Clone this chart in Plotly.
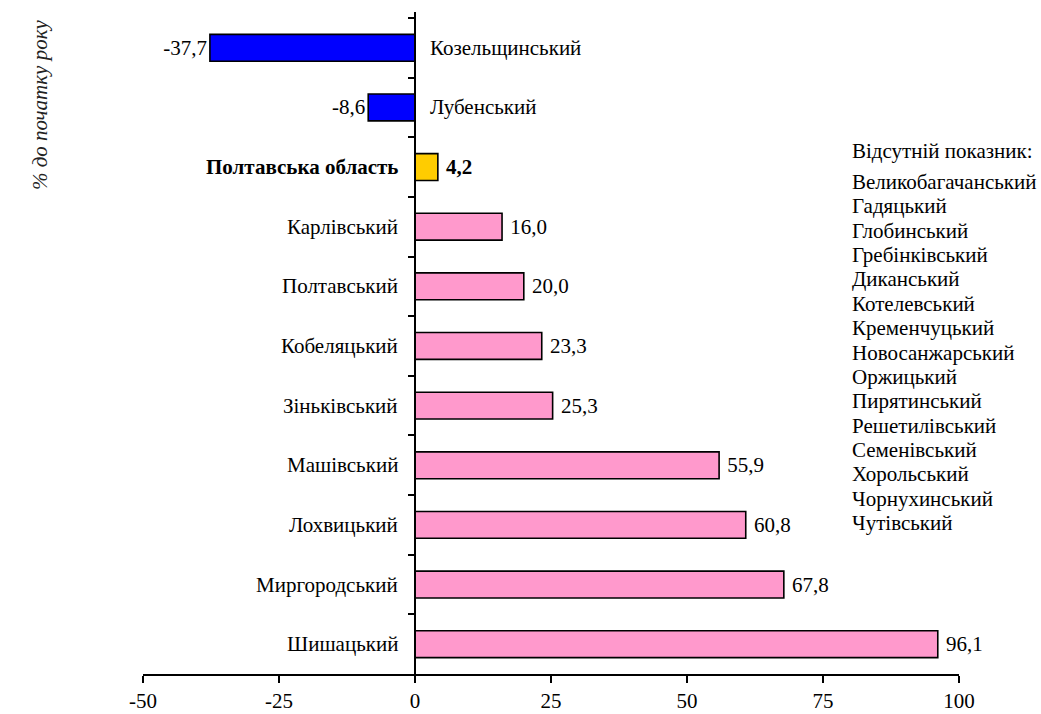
import plotly.graph_objects as go

categories = ["Козельщинський", "Лубенський", "Полтавська область", "Карлівський",
              "Полтавський", "Кобеляцький", "Зіньківський", "Машівський",
              "Лохвицький", "Миргородський", "Шишацький"]
values = [-37.7, -8.6, 4.2, 16.0, 20.0, 23.3, 25.3, 55.9, 60.8, 67.8, 96.1]
highlight = "Полтавська область"
missing_title = "Відсутній показник:"
missing = ["Великобагачанський", "Гадяцький", "Глобинський", "Гребінківський",
           "Диканський", "Котелевський", "Кременчуцький", "Новосанжарський",
           "Оржицький", "Пирятинський", "Решетилівський", "Семенівський",
           "Хорольський", "Чорнухинський", "Чутівський"]
x_ticks = [-50, -25, 0, 25, 50, 75, 100]
y_title = "% до початку року"

FONT = "Liberation Serif"
FS = 21

W, H = 1041, 714
L, R, T, B = 143, 82, 12, 40

def px_x(px):
    return (px - L) / (W - L - R)

def px_y(py):
    return 1 - (py - T) / (H - T - B)

colors = []
texts = []
for c, v in zip(categories, values):
    s = f"{v:.1f}".replace(".", ",")
    if c == highlight:
        colors.append("#FFCC00")
        texts.append(f" <b>{s}</b>")
    elif v < 0:
        colors.append("#0000FF")
        texts.append(s)
    else:
        colors.append("#FF99CC")
        texts.append(" " + s)

fig = go.Figure(go.Bar(
    y=categories, x=values, orientation="h",
    marker=dict(color=colors, line=dict(color="black", width=1.6)),
    width=0.45,
    text=texts, textposition="outside", cliponaxis=False,
    textfont=dict(family=FONT, size=FS, color="black"),
))

for c, v in zip(categories, values):
    lab = f"<b>{c}</b>" if c == highlight else c
    fig.add_annotation(x=0, y=c, xref="x", yref="y", text=lab, showarrow=False,
                       xanchor="left" if v < 0 else "right",
                       xshift=13 if v < 0 else -15,
                       font=dict(family=FONT, size=FS, color="black"))

fig.add_annotation(x=px_x(850), y=px_y(151), xref="paper", yref="paper", text=missing_title,
                   showarrow=False, xanchor="left", yanchor="middle",
                   font=dict(family=FONT, size=FS, color="black"))
for i, name in enumerate(missing):
    fig.add_annotation(x=px_x(850), y=px_y(182 + i * 24.36), xref="paper", yref="paper",
                       text=name, showarrow=False, xanchor="left", yanchor="middle",
                       font=dict(family=FONT, size=FS, color="black"))

fig.add_annotation(x=px_x(40), y=px_y(105), xref="paper", yref="paper",
                   text=f"<i>{y_title}</i>", showarrow=False, textangle=-90,
                   xanchor="center", yanchor="middle",
                   font=dict(family=FONT, size=FS, color="#222222"))

fig.update_layout(
    width=W, height=H,
    margin=dict(l=L, r=R, t=T, b=B, autoexpand=False),
    plot_bgcolor="white", paper_bgcolor="white",
    showlegend=False,
    xaxis=dict(range=[-50, 100], tickvals=x_ticks, ticktext=[str(t) for t in x_ticks],
               automargin=False,
               showline=True, linecolor="black", linewidth=1.5, ticks="outside",
               ticklen=7, tickwidth=1.5, tickcolor="black", showgrid=False, zeroline=False,
               tickfont=dict(family=FONT, size=FS, color="black")),
    yaxis=dict(type="category", range=[len(categories) - 0.5, -0.6], showticklabels=False,
               automargin=False,
               anchor="free", position=1/3, showline=True, linecolor="black",
               linewidth=1.5, ticks="outside", tickson="boundaries", ticklen=6,
               tickwidth=1.5, tickcolor="black", showgrid=False, zeroline=False),
)

fig.write_html("out.html", config={"displayModeBar": False},
               post_script="document.body.style.margin='0';")
